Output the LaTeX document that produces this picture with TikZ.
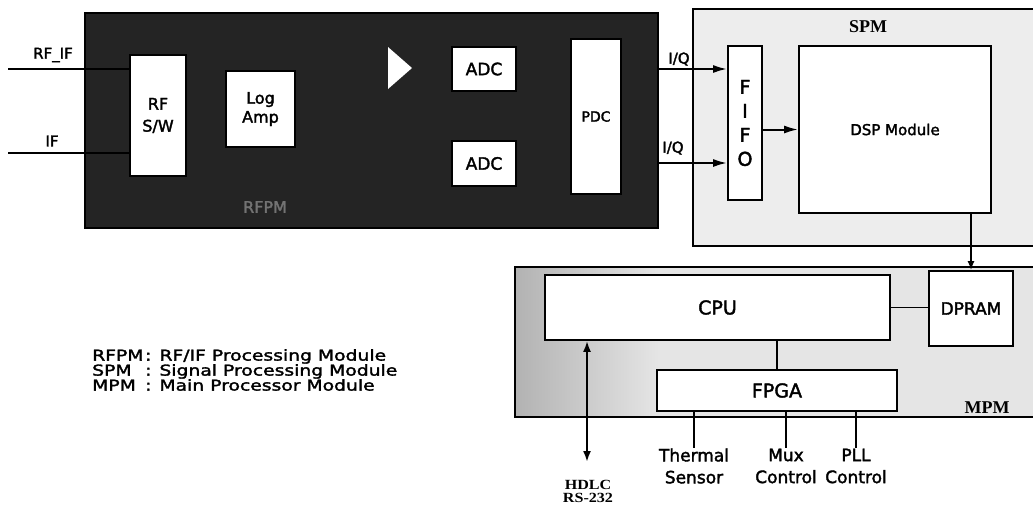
\documentclass[tikz,border=0pt]{standalone}
\usepackage{fontspec}
\setmainfont{Liberation Serif}
\setsansfont{DejaVu Sans}[FakeBold=2]
\newfontfamily\legfont[FakeStretch=1.25,FakeBold=2]{DejaVu Sans}
\newfontfamily\serifwide[FakeStretch=1.15]{Liberation Serif}
\usetikzlibrary{arrows.meta}
\newcommand\fsz[2]{\fontsize{#1}{#2}\selectfont}
\tikzset{
  container/.style={draw, line width=1.8pt, inner sep=0pt},
  blk/.style={draw, line width=1.8pt, fill=white, inner sep=0pt, align=center, font=\sffamily},
  wire/.style={line width=2pt},
  thinwire/.style={line width=1.5pt},
  arr/.style={wire, -{Latex[length=14pt,width=8pt]}},
  smallarr/.style={thinwire, -{Latex[length=9pt,width=7pt]}},
  dblarr/.style={wire, {Latex[length=11pt,width=8pt]}-{Latex[length=11pt,width=8pt]}},
  lbl/.style={inner sep=0pt, font=\sffamily, align=center},
  modlbl/.style={inner sep=0pt, font=\rmfamily\bfseries},
}
\begin{document}
\begin{tikzpicture}[x=1pt,y=-1pt]
\clip (0,0) rectangle (1033,507);
\fill[white] (0,0) rectangle (1033,507);

% ---------- containers ----------
\node[container, fill=black!86, minimum width=573pt, minimum height=215pt] (rfpm) at (371.5,120.5) {};
\node[container, fill=black!7, minimum width=357pt, minimum height=237pt] (spm) at (871.5,127.5) {};
\node[inner sep=0pt, fill=black!10, minimum width=535pt, minimum height=150pt] (mpm) at (782.5,342) {};
\shade[left color=black!30, right color=black!10] (516,268) rectangle (660,416);
\draw[line width=1.8pt] (mpm.north west) rectangle (mpm.south east);

% ---------- RFPM ----------
\node[blk, minimum width=56pt, minimum height=121pt, font=\sffamily\fsz{16}{22}] (rfsw) at (158,115.5) {RF\\S/W};
\node[blk, minimum width=69pt, minimum height=76pt, font=\sffamily\fsz{16}{19}] (logamp) at (260.5,109) {Log\\Amp};
\fill[white] (388,47) -- (412,68) -- (388,89) -- cycle;
\node[blk, minimum width=64pt, minimum height=44pt, font=\sffamily\fsz{17}{20}] (adca) at (484,69) {ADC};
\node[blk, minimum width=64pt, minimum height=45pt, font=\sffamily\fsz{17}{20}] (adcb) at (484,163.5) {ADC};
\node[blk, minimum width=50pt, minimum height=155pt, font=\sffamily\fsz{14}{17}] (pdc) at (596,116.5) {PDC};
\node[modlbl, text=black!55, font=\sffamily\fsz{16}{18}] (rfpmlbl) at (265,207) {RFPM};

% ---------- SPM ----------
\node[blk, minimum width=34pt, minimum height=154pt, font=\sffamily\fsz{19}{24}] (fifo) at (745,123) {F\\I\\F\\O};
\node[blk, minimum width=192pt, minimum height=167pt, font=\sffamily\fsz{15}{18}] (dsp) at (895,129.5) {DSP Module};
\node[modlbl, font=\rmfamily\bfseries\fsz{18}{20}] (spmlbl) at (868,27) {SPM};

% ---------- MPM ----------
\node[blk, minimum width=345pt, minimum height=65pt, font=\sffamily\fsz{19}{22}] (cpu) at (717.5,307.5) {CPU};
\node[blk, minimum width=84pt, minimum height=75pt, font=\sffamily\fsz{17}{20}] (dpram) at (971,308.5) {DPRAM};
\node[blk, minimum width=240pt, minimum height=41pt, font=\sffamily\fsz{19}{22}] (fpga) at (777,390.5) {FPGA};
\node[modlbl, font=\rmfamily\bfseries\fsz{18}{20}] (mpmlbl) at (987,408) {MPM};

% ---------- inputs ----------
\coordinate (rfifin) at (8,69);
\coordinate (ifin) at (8,153);
\draw[wire] (rfifin) -- (rfifin -| rfsw.west);
\draw[wire] (ifin) -- (ifin -| rfsw.west);
\node[lbl, font=\sffamily\fsz{15}{18}] (rfiflbl) at (53,55) {RF\_IF};
\node[lbl, font=\sffamily\fsz{15}{18}] (iflbl) at (52,141) {IF};

% ---------- I/Q ----------
\coordinate (iqa) at (658,69);
\coordinate (iqb) at (658,163);
\draw[arr] (iqa) -- (iqa -| fifo.west);
\draw[arr] (iqb) -- (iqb -| fifo.west);
\node[lbl, font=\sffamily\fsz{15}{18}] (iqalbl) at (679,59) {I/Q};
\node[lbl, font=\sffamily\fsz{15}{18}] (iqblbl) at (673,148) {I/Q};

\draw[arr] (fifo.east |- dsp.west) -- (dsp.west);
\draw[smallarr] (dsp.south -| dpram.north) -- (dpram.north);
\draw[thinwire] (cpu.east) -- (cpu.east -| dpram.west);
\draw[thinwire] (cpu.south -| fpga.north) -- (fpga.north);

% ---------- FPGA outputs ----------
\node[lbl, font=\sffamily\fsz{17}{22}] (therm) at (694,466) {Thermal\\Sensor};
\node[lbl, font=\sffamily\fsz{17}{22}] (mux) at (786,466) {Mux\\Control};
\node[lbl, font=\sffamily\fsz{17}{22}] (pll) at (856,466) {PLL\\Control};
\draw[thinwire] (fpga.south -| therm.north) -- (therm.north);
\draw[thinwire] (fpga.south -| mux.north) -- (mux.north);
\draw[thinwire] (fpga.south -| pll.north) -- (pll.north);

% ---------- HDLC ----------
\coordinate (hdlcend) at (587,462);
\draw[dblarr] (cpu.south -| hdlcend) -- (hdlcend);
\node[inner sep=0pt, align=center, font=\serifwide\bfseries\fsz{14}{13}] (hdlclbl) at (588,491) {HDLC\\RS-232};

% ---------- legend ----------
\node[anchor=north west, inner sep=0pt, align=left, font=\legfont\fsz{15}{15}] (legend) at (92,349)
  {\makebox[53pt][l]{RFPM}: RF/IF Processing Module\\
   \makebox[53pt][l]{SPM}: Signal Processing Module\\
   \makebox[53pt][l]{MPM}: Main Processor Module};
\end{tikzpicture}
\end{document}
